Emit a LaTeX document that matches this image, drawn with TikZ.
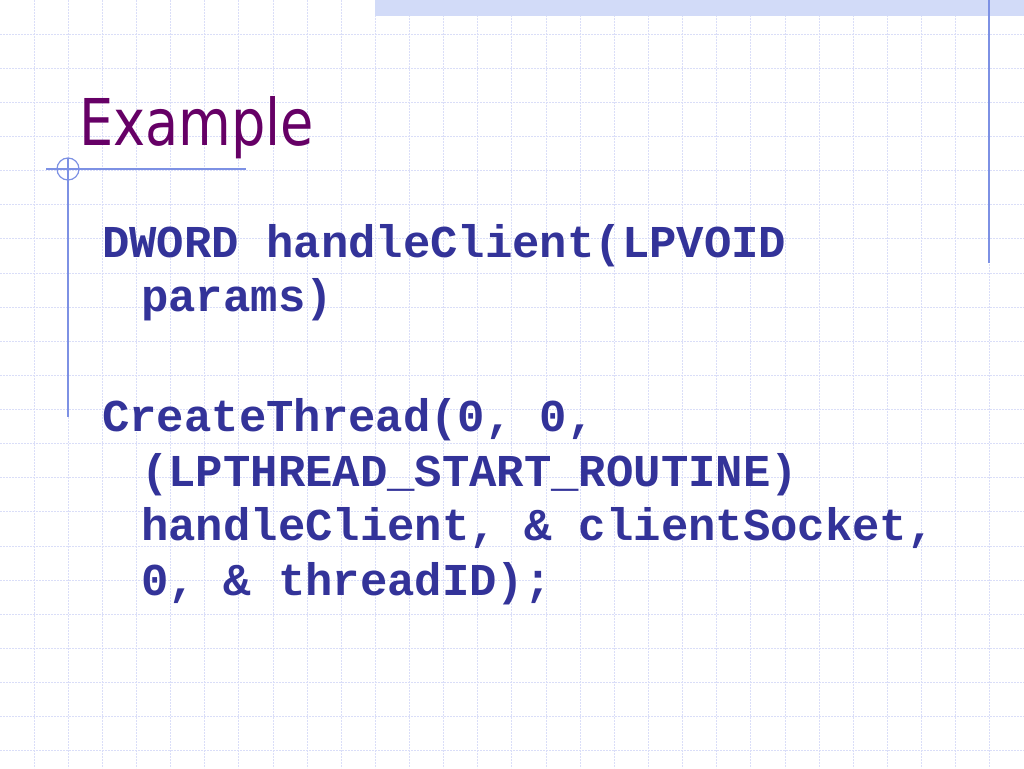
\documentclass[tikz,border=0pt]{standalone}
\usepackage{fontspec}
\setmainfont{Liberation Serif}
\newfontfamily\codefont{Liberation Mono}
\newfontfamily\titlefont{DejaVu Sans}
\usepackage{xcolor}
\usetikzlibrary{positioning}
\definecolor{gridblue}{RGB}{218,222,248}
\definecolor{bandblue}{RGB}{210,219,248}
\definecolor{ruleblue}{RGB}{125,145,228}
\definecolor{titlepurple}{RGB}{102,0,102}
\definecolor{codeblue}{RGB}{51,51,153}
\tikzset{
    gridline/.style={gridblue, line width=1pt, dash pattern=on 2pt off 1pt},
    rule/.style={ruleblue, line width=1.2pt},
    code/.style={anchor=base west, inner sep=0pt, codeblue,
        font=\codefont\bfseries\fontsize{45.6}{54}\selectfont}
}

\begin{document}
\begin{tikzpicture}[x=1pt, y=-1pt]
                        \useasboundingbox[fill=white] (0,0) rectangle (1024,768);
                        \foreach \i in {1,...,29} \draw[gridline] (\i*34.13,0) -- (\i*34.13,768);
                        \foreach \j in {1,...,22} \draw[gridline] (0,\j*34.13) -- (1024,\j*34.13);
                        \fill[bandblue] (375,0) rectangle (1024,16);
                        \draw[rule] (989,0) -- (989,263);
                        \draw[rule] (46,169) -- (246,169);
                        \draw[rule] (68,158) -- (68,417);
                        \draw[rule] (68,169) circle[radius=11];
                        \node[anchor=base west, inner sep=0pt, titlepurple, xscale=0.84,
                            font=\titlefont\fontsize{64.5}{70}\selectfont] (title) at (79,145) {Example};
                        \node[code] (decl) at (102,257) {DWORD handleClient(LPVOID};
                        \node[code] (declb) at (141,311.5) {params)};
                        \node[code] (call) at (102,431.7) {CreateThread(0, 0,};
                        \node[code] (callb) at (141,486) {(LPTHREAD\_START\_ROUTINE)};
                        \node[code] (callc) at (141,540.5) {handleClient, \& clientSocket,};
                        \node[code] (calld) at (141,595) {0, \& threadID);};
                    \end{tikzpicture}
\end{document}
